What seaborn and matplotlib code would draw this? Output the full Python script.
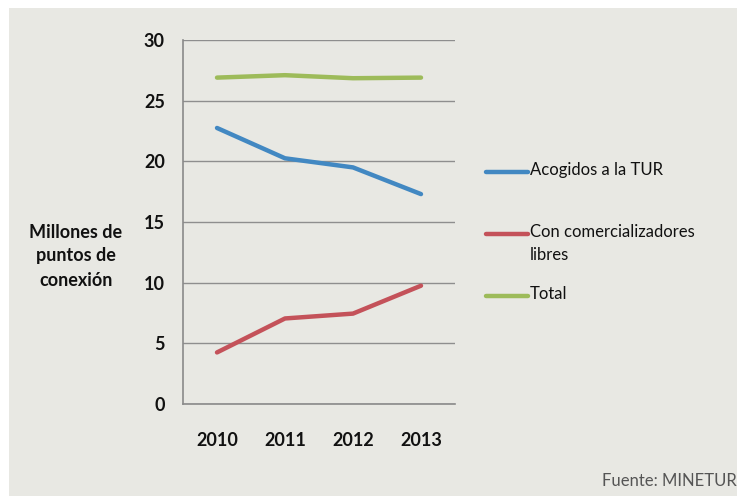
import matplotlib
matplotlib.use("Agg")
import matplotlib.pyplot as plt
from matplotlib.lines import Line2D
from matplotlib.patches import Rectangle
import seaborn as sns
import pandas as pd

years = ["2010", "2011", "2012", "2013"]
series_names = ["Acogidos a la TUR", "Con comercializadores\nlibres", "Total"]
tur = [22.75, 20.25, 19.5, 17.3]
libres = [4.25, 7.05, 7.45, 9.75]
total = [26.9, 27.1, 26.85, 26.9]
y_ticks = [0, 5, 10, 15, 20, 25, 30]
colors = ["#4288c2", "#c4525a", "#9dbb5a"]

rows = []
for name, vals in zip(series_names, [tur, libres, total]):
    for yr, v in zip(years, vals):
        rows.append({"year": yr, "value": v, "serie": name})
df = pd.DataFrame(rows)

sns.set_theme(style="white")
plt.rcParams["font.family"] = ["Lato", "DejaVu Sans"]

W, H = 737, 496
bg = "#e8e8e3"
fig = plt.figure(figsize=(W / 100, H / 100), dpi=100)
fig.patch.set_facecolor("white")
fig.add_artist(Rectangle((9 / W, 0), 1 - 9 / W, 1 - 8 / H, transform=fig.transFigure,
                         facecolor=bg, edgecolor="none", zorder=-10))

ax = fig.add_axes([183 / W, 1 - 404 / H, (455 - 183) / W, (404 - 40) / H])
ax.set_facecolor(bg)

sns.lineplot(data=df, x="year", y="value", hue="serie", palette=colors,
             hue_order=series_names, sort=False, linewidth=3.2, ax=ax, legend=False)

ax.set_xlim(-0.5, 3.5)
ax.set_ylim(0, 30)
ax.set_yticks(y_ticks)
ax.set_yticklabels([str(t) for t in y_ticks], fontsize=13, fontweight="bold", color="#111111")
ax.set_xticks(range(len(years)))
ax.set_xticklabels(years, fontsize=13, fontweight="bold", color="#111111")
ax.set_xticks([i - 0.5 for i in range(len(years) + 1)], minor=True)
ax.tick_params(axis="x", which="major", length=0, pad=20)
ax.tick_params(axis="x", which="minor", length=5, width=1.2, color="#8a8a8a", direction="out")
ax.tick_params(axis="y", which="major", length=4.5, width=1.2, color="#8a8a8a", direction="out", pad=8.5)
ax.grid(axis="y", color="#8e8e8e", linewidth=1.0)
ax.set_axisbelow(True)
for s in ["top", "right"]:
    ax.spines[s].set_visible(False)
for s in ["left", "bottom"]:
    ax.spines[s].set_color("#8a8a8a")
    ax.spines[s].set_linewidth(1.2)
ax.set_xlabel("")
ax.set_ylabel("")

fig.text(76 / W, 1 - 256 / H, "Millones de\npuntos de\nconexión", ha="center", va="center",
         fontsize=13, fontweight="bold", color="#111111", linespacing=1.5)

# legend drawn manually
leg_y = [172, 234, 296]
for name, c, yy in zip(series_names, colors, leg_y):
    fig.add_artist(Line2D([486 / W, 528 / W], [1 - yy / H, 1 - yy / H], color=c, linewidth=3.2,
                          transform=fig.transFigure))
    fig.text(530 / W, 1 - (yy - 10) / H, name, ha="left", va="top", fontsize=12,
             color="#111111", linespacing=1.55)

fig.text(737 / W, 1 - 481 / H, "Fuente: MINETUR", ha="right", va="center", fontsize=12,
         color="#555555")

fig.savefig("out.png", dpi=100, facecolor=fig.get_facecolor())
